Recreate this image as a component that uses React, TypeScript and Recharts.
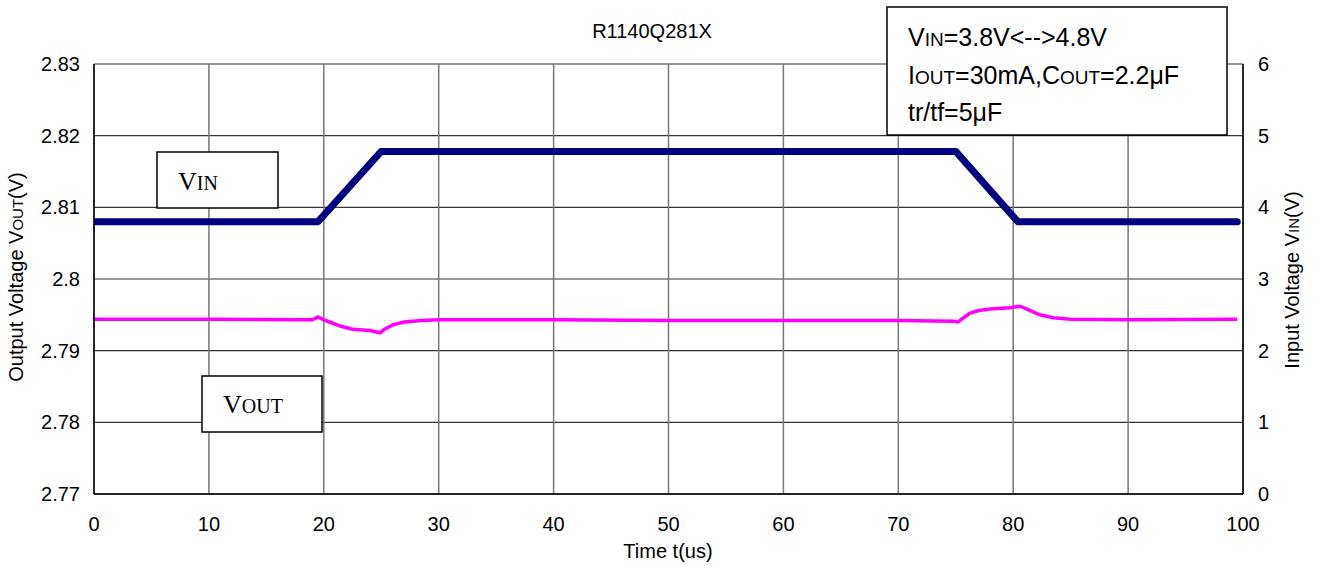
import React from 'react'
import { LineChart, Line, XAxis, YAxis, CartesianGrid } from 'recharts'

// input voltage trace (right axis, V)
const vinTime = [0, 19.5, 25, 75, 80.4, 99.5]
const vinVolts = [3.8, 3.8, 4.78, 4.78, 3.8, 3.8]

// output voltage trace (left axis, V)
const voutTime = [
  0, 10, 19, 19.5, 20, 20.5, 21.5, 22.5, 24, 24.9, 25.3, 26, 27, 28.5, 30,
  40, 50, 60, 70, 74.8, 75.2, 76.2, 77, 78, 79.7, 80.6, 81.2, 82.3, 83.5, 85, 90, 99.5
]
const voutVolts = [
  2.7944, 2.7944, 2.7943, 2.7947, 2.7943, 2.794, 2.7934, 2.793, 2.7928, 2.7925, 2.793, 2.7936, 2.794, 2.7942, 2.7943,
  2.7943, 2.7942, 2.7942, 2.7942, 2.7941, 2.794, 2.7952, 2.7956, 2.7958, 2.796, 2.7962, 2.7958, 2.795, 2.7946, 2.7944, 2.7943, 2.7944
]

const timeTicks = [0, 10, 20, 30, 40, 50, 60, 70, 80, 90, 100]
const voutTicks = [2.77, 2.78, 2.79, 2.8, 2.81, 2.82, 2.83]
const vinTicks = [0, 1, 2, 3, 4, 5, 6]

const vinData = vinTime.map((t, i) => ({ t, v: vinVolts[i] }))
const voutData = voutTime.map((t, i) => ({ t, v: voutVolts[i] }))

const W = 1321
const H = 566
const font = '"Liberation Sans", Arial, sans-serif'
const serif = '"Liberation Serif", "Times New Roman", serif'
const tickStyle = { fill: '#000', fontSize: 20, fontFamily: font }

export default function App() {
  return (
    <div style={{ position: 'absolute', left: 0, top: 0, width: W, height: H, background: '#fff' }}>
      <LineChart width={W} height={H} data={voutData} margin={{ top: 64, right: 0, bottom: 0, left: 0 }}>
        <CartesianGrid yAxisId="left" vertical={false} stroke="#333" strokeWidth={1.2} />
        <CartesianGrid yAxisId="left" horizontal={false} stroke="#777" strokeWidth={1.5} />
        <XAxis
          dataKey="t"
          type="number"
          domain={[0, 100]}
          ticks={timeTicks}
          height={72}
          tickSize={0}
          tickMargin={23}
          tick={tickStyle}
          axisLine={{ stroke: '#000', strokeWidth: 1.5 }}
          allowDataOverflow
        />
        <YAxis
          yAxisId="left"
          domain={[2.77, 2.83]}
          ticks={voutTicks}
          width={94}
          tickSize={0}
          tickMargin={14}
          tick={tickStyle}
          axisLine={{ stroke: '#000', strokeWidth: 1.5 }}
          allowDataOverflow
        />
        <YAxis
          yAxisId="right"
          orientation="right"
          domain={[0, 6]}
          ticks={vinTicks}
          width={78}
          tickSize={0}
          tickMargin={15}
          tick={{ ...tickStyle, textAnchor: 'start' }}
          axisLine={{ stroke: '#000', strokeWidth: 1.5 }}
          allowDataOverflow
        />
        <Line
          yAxisId="left"
          data={voutData}
          dataKey="v"
          type="linear"
          stroke="#ff00ff"
          strokeWidth={3.5}
          dot={false}
          isAnimationActive={false}
        />
        <Line
          yAxisId="right"
          data={vinData}
          dataKey="v"
          type="linear"
          stroke="#000080"
          strokeWidth={7}
          strokeLinecap="round"
          strokeLinejoin="round"
          dot={false}
          isAnimationActive={false}
        />
      </LineChart>

      {/* annotations: title, axis titles, text boxes */}
      <svg width={W} height={H} style={{ position: 'absolute', left: 0, top: 0, pointerEvents: 'none' }}>
        <text x={652} y={38} textAnchor="middle" fontFamily={font} fontSize={20}>R1140Q281X</text>
        <text x={668} y={558} textAnchor="middle" fontFamily={font} fontSize={20}>Time t(us)</text>
        <text
          transform="translate(23,277) rotate(-90)"
          textAnchor="middle"
          fontFamily={font}
          fontSize={20}
        >
          Output Voltage V<tspan fontSize={15}>OUT</tspan>(V)
        </text>
        <text
          transform="translate(1299,280) rotate(-90)"
          textAnchor="middle"
          fontFamily={font}
          fontSize={20}
        >
          Input Voltage V<tspan fontSize={15}>IN</tspan>(V)
        </text>

        <rect x={887} y={7} width={340} height={128} fill="#fff" stroke="#000" strokeWidth={1.5} />
        <text x={908} y={46} fontFamily={font} fontSize={25}>
          V<tspan fontSize={19}>IN</tspan>=3.8V&lt;--&gt;4.8V
        </text>
        <text x={908} y={84} fontFamily={font} fontSize={25}>
          I<tspan fontSize={19}>OUT</tspan>=30mA,C<tspan fontSize={19}>OUT</tspan>=2.2μF
        </text>
        <text x={908} y={121} fontFamily={font} fontSize={25}>tr/tf=5μF</text>

        <rect x={157} y={152} width={121} height={56} fill="#fff" stroke="#000" strokeWidth={1.5} />
        <text x={178} y={190} fontFamily={serif} fontSize={26}>
          V<tspan fontSize={20}>IN</tspan>
        </text>

        <rect x={202} y={376} width={120} height={56} fill="#fff" stroke="#000" strokeWidth={1.5} />
        <text x={223} y={413} fontFamily={serif} fontSize={26}>
          V<tspan fontSize={20}>OUT</tspan>
        </text>
      </svg>
    </div>
  )
}
